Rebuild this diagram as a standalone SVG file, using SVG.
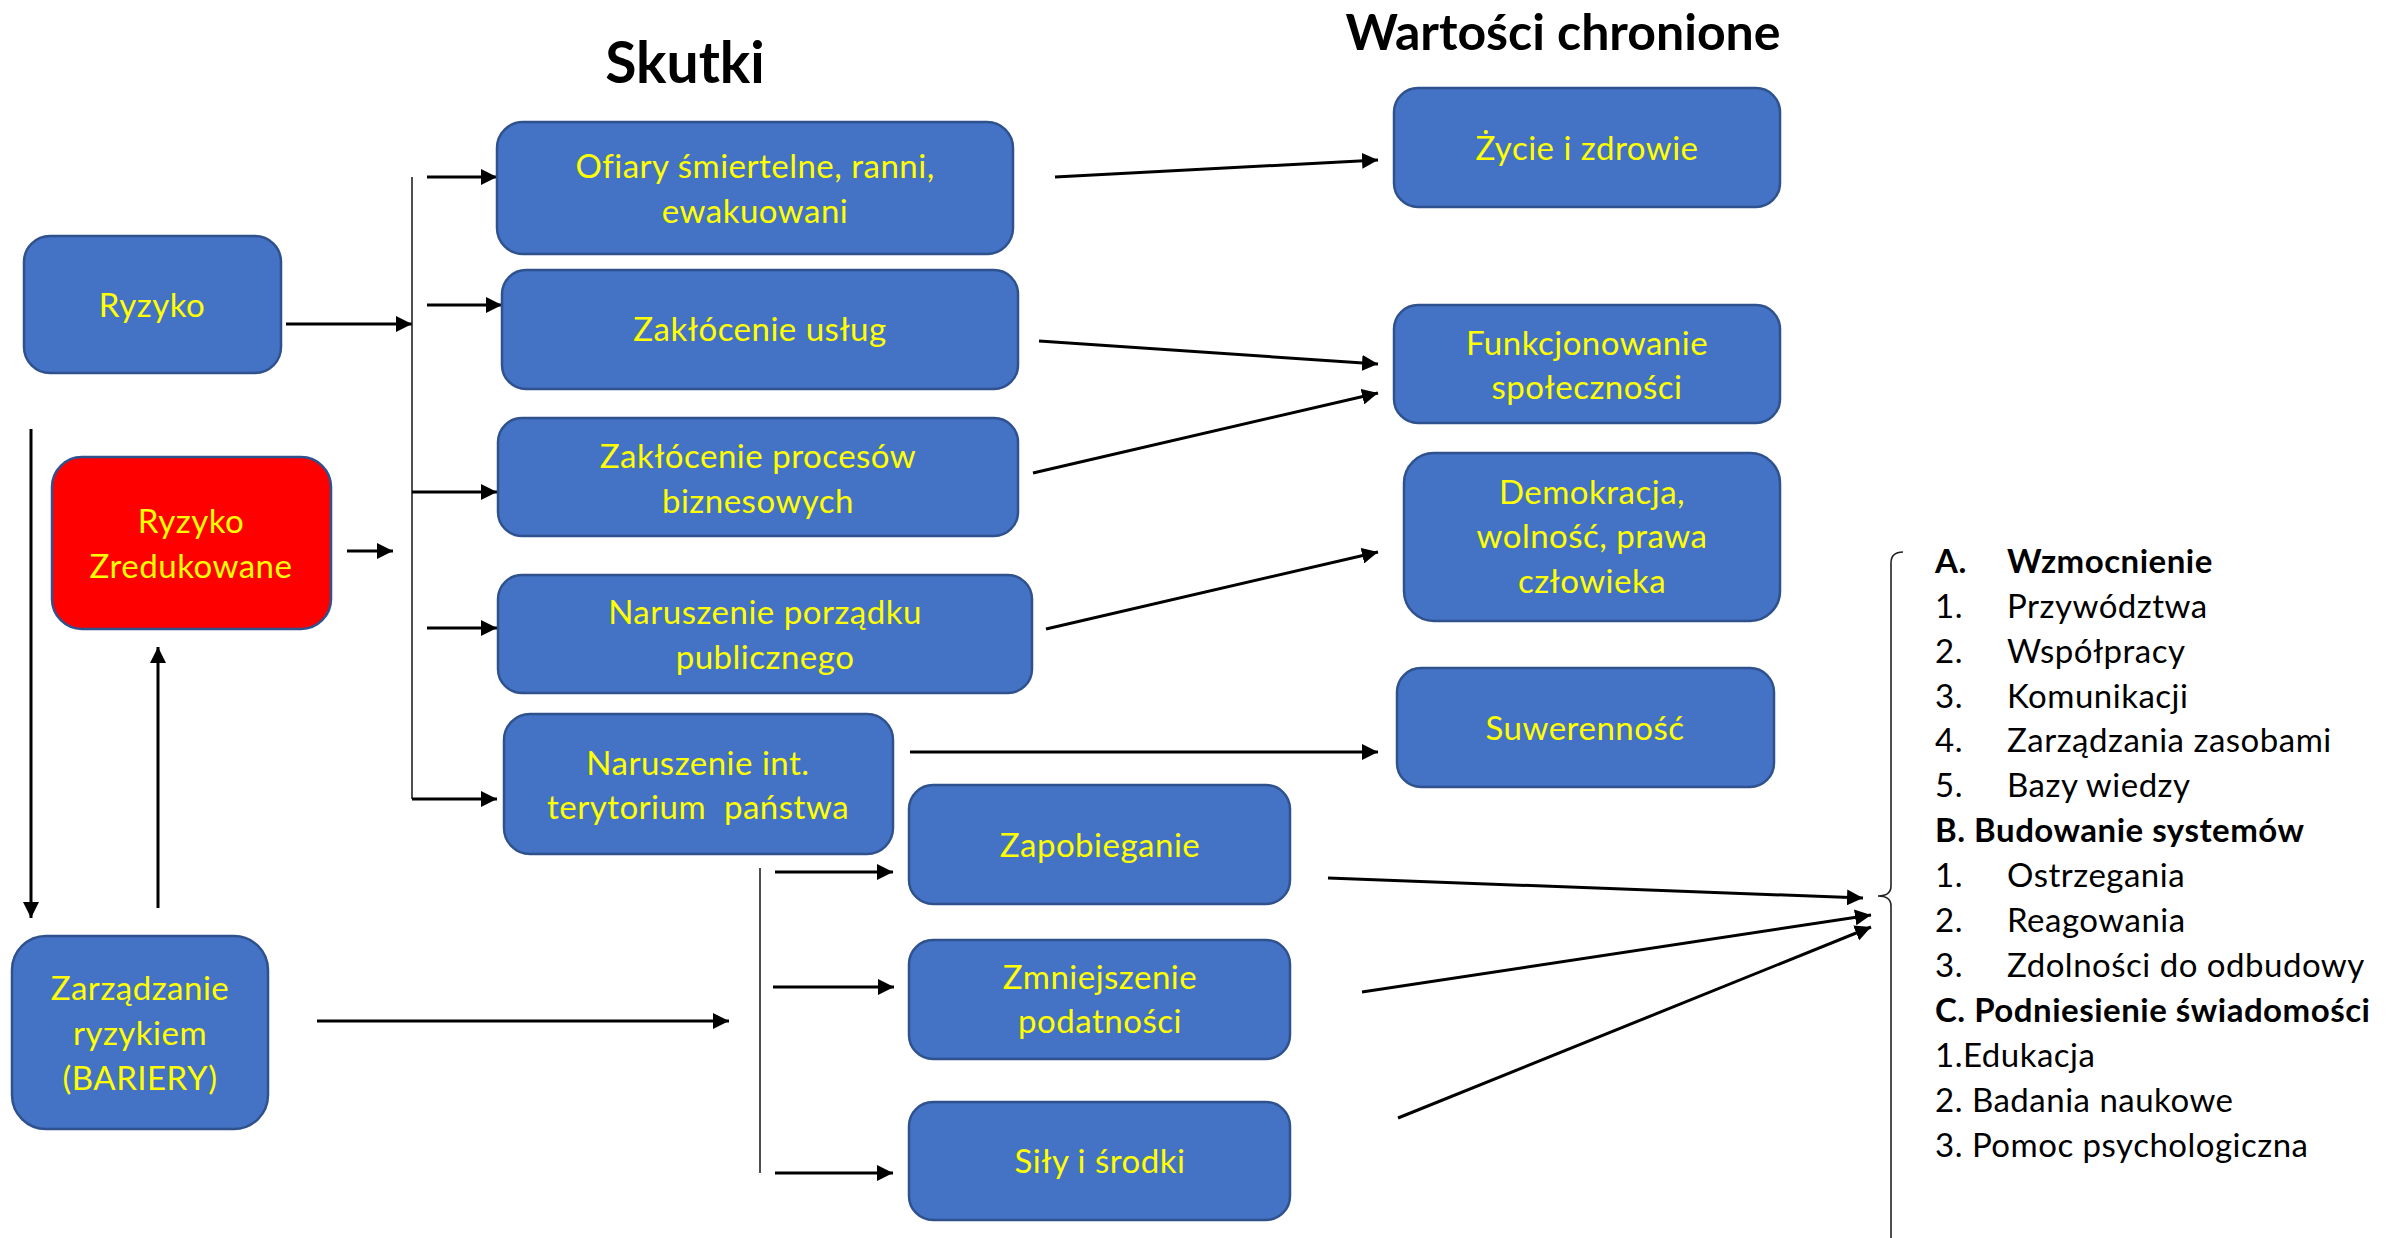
<svg xmlns="http://www.w3.org/2000/svg" width="2387" height="1238" viewBox="0 0 2387 1238">
<style>
.box{fill:#4472C4;stroke:#2F528F;stroke-width:2.5}
.red{fill:#FF0000;stroke:#2F528F;stroke-width:2.5}
.t{font-family:Lato,"Open Sans","Liberation Sans",sans-serif;font-size:33px;letter-spacing:0.5px;fill:#FFFF00;text-anchor:middle;white-space:pre}
.h{font-family:Lato,"Open Sans","Liberation Sans",sans-serif;font-weight:bold;fill:#000;text-anchor:middle}
.l{font-family:Lato,"Open Sans","Liberation Sans",sans-serif;font-size:33px;letter-spacing:0.5px;fill:#000}
.b{font-weight:bold}
.c{stroke:#000;stroke-width:3;fill:none}
.v{stroke:#222;stroke-width:1.6;fill:none}
.a{marker-end:url(#ah)}
</style>
<defs>
<marker id="ah" markerUnits="userSpaceOnUse" markerWidth="16" markerHeight="16" refX="16" refY="8" orient="auto">
<path d="M0,0 L16,8 L0,16 Z" fill="#000"/>
</marker>
</defs>
<rect width="2387" height="1238" fill="#fff"/>
<text class="h" x="685" y="83" font-size="57">Skutki</text>
<text class="h" x="1563" y="50" font-size="50">Wartości chronione</text>

<g id="connectors">
<line class="c a" x1="286" y1="324" x2="412" y2="324"/>
<line class="v" x1="412" y1="177" x2="412" y2="799"/>
<line class="c a" x1="427" y1="177" x2="497" y2="177"/>
<line class="c a" x1="427" y1="305" x2="502" y2="305"/>
<line class="c a" x1="412" y1="492" x2="497" y2="492"/>
<line class="c a" x1="427" y1="628" x2="497" y2="628"/>
<line class="c a" x1="412" y1="799" x2="497" y2="799"/>
<line class="c a" x1="347" y1="551" x2="393" y2="551"/>
<line class="c a" x1="31" y1="429" x2="31" y2="918"/>
<line class="c a" x1="158" y1="908" x2="158" y2="647"/>
<line class="c a" x1="317" y1="1021" x2="729" y2="1021"/>
<line class="v" x1="760" y1="868" x2="760" y2="1173"/>
<line class="c a" x1="775" y1="872" x2="893" y2="872"/>
<line class="c a" x1="773" y1="987" x2="894" y2="987"/>
<line class="c a" x1="775" y1="1173" x2="893" y2="1173"/>
<line class="c a" x1="1055" y1="177" x2="1378" y2="160"/>
<line class="c a" x1="1039" y1="341" x2="1378" y2="364"/>
<line class="c a" x1="1033" y1="473" x2="1378" y2="393"/>
<line class="c a" x1="1046" y1="629" x2="1378" y2="552"/>
<line class="c a" x1="910" y1="752" x2="1378" y2="752"/>
<line class="c a" x1="1328" y1="878" x2="1863" y2="898"/>
<line class="c a" x1="1362" y1="992" x2="1871" y2="915"/>
<line class="c a" x1="1398" y1="1118" x2="1871" y2="927"/>
<path class="v" d="M1903,552 Q1891,552 1891,563 V886 Q1891,896 1878,896 Q1891,896 1891,906 V1240"/>
</g>

<g id="ryzyko"><rect class="box" x="24" y="236" width="257" height="137" rx="26"/><text class="t" x="152" y="317">Ryzyko</text></g>
<g id="ryzyko-zredukowane"><rect class="red" x="52" y="457" width="279" height="172" rx="30"/><text class="t" x="191" y="533">Ryzyko</text><text class="t" x="191" y="578">Zredukowane</text></g>
<g id="zarzadzanie"><rect class="box" x="12" y="936" width="256" height="193" rx="34"/><text class="t" x="140" y="1000">Zarządzanie</text><text class="t" x="140" y="1045">ryzykiem</text><text class="t" x="140" y="1090">(BARIERY)</text></g>

<g id="ofiary"><rect class="box" x="497" y="122" width="516" height="132" rx="26"/><text class="t" x="755" y="178">Ofiary śmiertelne, ranni,</text><text class="t" x="755" y="223">ewakuowani</text></g>
<g id="uslugi"><rect class="box" x="502" y="270" width="516" height="119" rx="24"/><text class="t" x="760" y="341">Zakłócenie usług</text></g>
<g id="procesy"><rect class="box" x="498" y="418" width="520" height="118" rx="24"/><text class="t" x="758" y="468">Zakłócenie procesów</text><text class="t" x="758" y="513">biznesowych</text></g>
<g id="porzadek"><rect class="box" x="498" y="575" width="534" height="118" rx="24"/><text class="t" x="765" y="624">Naruszenie porządku</text><text class="t" x="765" y="669">publicznego</text></g>
<g id="terytorium"><rect class="box" x="504" y="714" width="389" height="140" rx="26"/><text class="t" x="698" y="775">Naruszenie int.</text><text class="t" x="698" y="819">terytorium  państwa</text></g>

<g id="zapobieganie"><rect class="box" x="909" y="785" width="381" height="119" rx="24"/><text class="t" x="1100" y="857">Zapobieganie</text></g>
<g id="zmniejszenie"><rect class="box" x="909" y="940" width="381" height="119" rx="24"/><text class="t" x="1100" y="989">Zmniejszenie</text><text class="t" x="1100" y="1033">podatności</text></g>
<g id="sily"><rect class="box" x="909" y="1102" width="381" height="118" rx="24"/><text class="t" x="1100" y="1173">Siły i środki</text></g>

<g id="zycie"><rect class="box" x="1394" y="88" width="386" height="119" rx="24"/><text class="t" x="1587" y="160">Życie i zdrowie</text></g>
<g id="funkcjonowanie"><rect class="box" x="1394" y="305" width="386" height="118" rx="24"/><text class="t" x="1587" y="355">Funkcjonowanie</text><text class="t" x="1587" y="399">społeczności</text></g>
<g id="demokracja"><rect class="box" x="1404" y="453" width="376" height="168" rx="30"/><text class="t" x="1592" y="504">Demokracja,</text><text class="t" x="1592" y="548">wolność, prawa</text><text class="t" x="1592" y="593">człowieka</text></g>
<g id="suwerennosc"><rect class="box" x="1397" y="668" width="377" height="119" rx="24"/><text class="t" x="1585" y="740">Suwerenność</text></g>

<g id="lista" class="l">
<text x="1935" y="573" class="b">A.</text><text x="2007" y="573" class="b">Wzmocnienie</text>
<text x="1935" y="618">1.</text><text x="2007" y="618">Przywództwa</text>
<text x="1935" y="663">2.</text><text x="2007" y="663">Współpracy</text>
<text x="1935" y="708">3.</text><text x="2007" y="708">Komunikacji</text>
<text x="1935" y="752">4.</text><text x="2007" y="752">Zarządzania zasobami</text>
<text x="1935" y="797">5.</text><text x="2007" y="797">Bazy wiedzy</text>
<text x="1935" y="842" class="b">B. Budowanie systemów</text>
<text x="1935" y="887">1.</text><text x="2007" y="887">Ostrzegania</text>
<text x="1935" y="932">2.</text><text x="2007" y="932">Reagowania</text>
<text x="1935" y="977">3.</text><text x="2007" y="977">Zdolności do odbudowy</text>
<text x="1935" y="1022" class="b">C. Podniesienie świadomości</text>
<text x="1935" y="1067">1.Edukacja</text>
<text x="1935" y="1112">2. Badania naukowe</text>
<text x="1935" y="1157">3. Pomoc psychologiczna</text>
</g>
</svg>
